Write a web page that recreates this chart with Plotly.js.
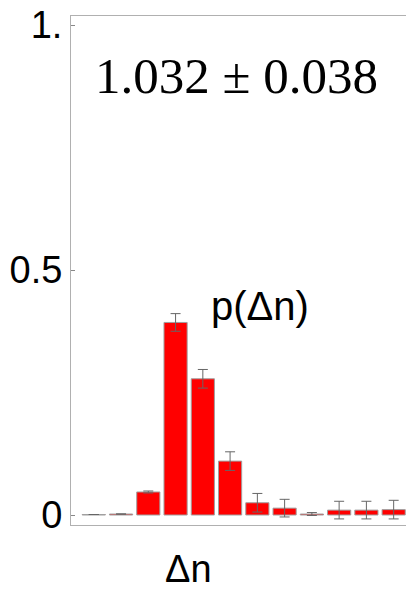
<!DOCTYPE html>
<html><head><meta charset="utf-8">
<script src="https://cdn.plot.ly/plotly-3.0.1.min.js"></script>
<style>html,body{margin:0;padding:0;overflow:hidden;background:#fff}#chart{width:410px;height:590px}</style>
</head><body><div id="chart"></div>
<script>
const deltaN = [0,1,2,3,4,5,6,7,8,9,10,11];
const prob   = [0.001,0.002,0.047,0.393,0.278,0.110,0.025,0.014,0.002,0.010,0.010,0.011];
const probErr= [0.000,0.000,0.002,0.018,0.019,0.019,0.019,0.018,0.003,0.018,0.018,0.019];
const yTickVals = [0,0.5,1];
const yTickText = ["0","0.5","1."];
const meanText = "1.032 ± 0.038";
const seriesLabel = "p(Δn)";
const xLabel = "Δn";

const trace = {
  type:'bar', x:deltaN, y:prob,
  marker:{color:'#ff0000', line:{color:'#a0a0a0', width:1}},
  error_y:{type:'data', array:probErr, visible:true, color:'#666666', thickness:1, width:5},
  width:0.85, hoverinfo:'none'
};
const layout = {
  width:410, height:590,
  margin:{l:71, r:2, t:16, b:65},
  paper_bgcolor:'#fff', plot_bgcolor:'#fff',
  showlegend:false,
  xaxis:{range:[-0.836,11.526], showticklabels:false, ticks:'', showgrid:false, zeroline:false,
         showline:true, linecolor:'#b0b0b0', linewidth:1, mirror:true},
  yaxis:{range:[-0.0204,1.0184], tickvals:yTickVals, ticktext:yTickText, ticks:'inside', ticklen:4,
         tickcolor:'#888', showgrid:false, zeroline:false, showline:true, linecolor:'#b0b0b0', linewidth:1,
         mirror:true, tickfont:{family:'Liberation Sans, Arial', size:38, color:'#000'}, ticklabelstandoff:0},
  annotations:[
    {text:meanText, xref:'paper', yref:'paper', x:(236.5-71)/337, y:0.882, xanchor:'center', yanchor:'middle',
     showarrow:false, font:{family:'Liberation Serif, Times New Roman', size:51, color:'#000'}},
    {text:seriesLabel, xref:'paper', yref:'paper', x:0.561, y:0.43, xanchor:'center', yanchor:'middle',
     showarrow:false, font:{family:'Liberation Sans, Arial', size:40, color:'#000'}},
    {text:xLabel, xref:'paper', yref:'paper', x:(188-71)/337, y:-0.087, xanchor:'center', yanchor:'middle',
     showarrow:false, font:{family:'Liberation Sans, Arial', size:38, color:'#000'}}
  ]
};
Plotly.newPlot('chart',[trace],layout,{displayModeBar:false, staticPlot:true});
</script></body></html>
